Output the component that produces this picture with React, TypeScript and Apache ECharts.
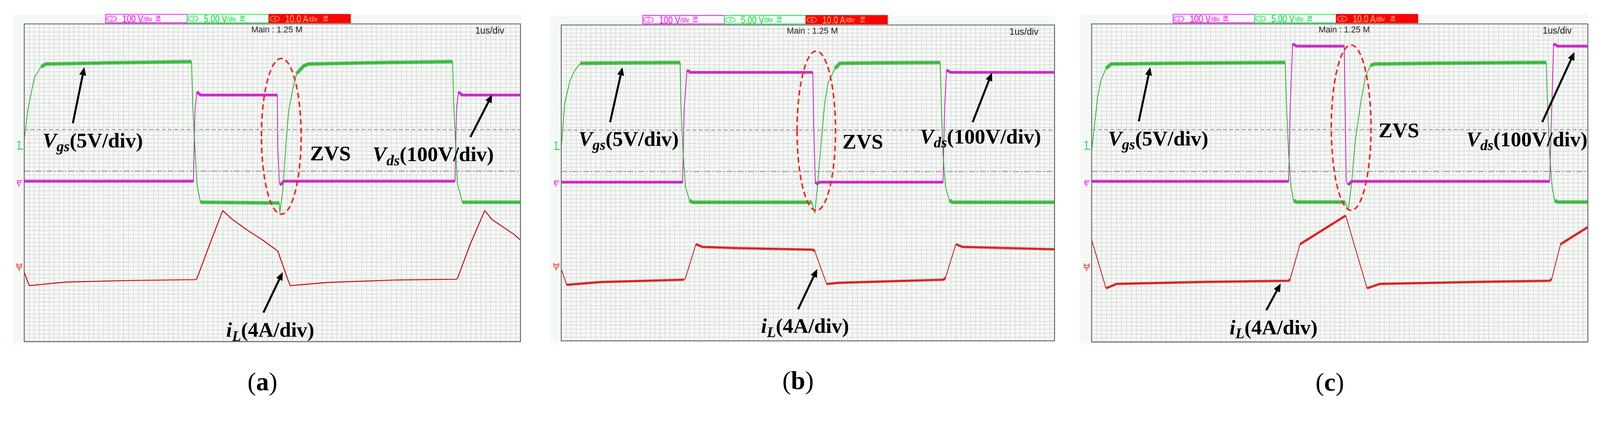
import React, { useEffect, useRef } from "react";
import * as echarts from "echarts";

type Pt = [number, number];

// Horizontal: time in µs (1 µs/div, 10 div). Vertical: screen divisions (8 div).
// ---------- panel (a) ----------
const vgsA: Pt[] = [
  [0, 5.08], [0.07, 5.82], [0.17, 6.44], [0.21, 6.66], [0.27, 6.78], [0.34, 6.92], [0.44, 6.99], [1.73, 7.02], [3.37, 7.05],
  [3.4, 5.82], [3.48, 3.97], [3.55, 3.51], [5.14, 3.49], [5.15, 3.25], [5.21, 3.79], [5.28, 5.08], [5.33, 5.82], [5.43, 6.47],
  [5.49, 6.75], [5.63, 6.94], [5.72, 6.99], [6.91, 7.02], [8.63, 7.05], [8.66, 5.82], [8.73, 3.97], [8.83, 3.51], [10, 3.51],
];
const vdsA: Pt[] = [
  [0, 4.04], [3.41, 4.04], [3.44, 5.82], [3.48, 6.29], [3.55, 6.21], [5.1, 6.21], [5.11, 4.9], [5.14, 4.0], [5.16, 3.94],
  [5.23, 4.04], [8.68, 4.04], [8.71, 5.82], [8.75, 6.29], [8.82, 6.21], [10, 6.21],
];
const iLA: Pt[] = [
  [0, 1.75], [0.1, 1.41], [0.84, 1.5], [2.15, 1.54], [3.45, 1.56], [3.48, 1.59], [3.74, 2.46], [4.0, 3.3], [4.2, 3.07],
  [4.54, 2.77], [4.8, 2.56], [5.11, 2.28], [5.2, 1.96], [5.33, 1.5], [5.36, 1.41], [6.12, 1.49], [7.44, 1.55], [8.7, 1.57],
  [8.73, 1.59], [8.99, 2.46], [9.28, 3.3], [9.43, 3.07], [9.87, 2.7], [10, 2.56],
];
// ---------- panel (b) ----------
const vgsB: Pt[] = [
  [0, 4.87], [0.07, 6.02], [0.18, 6.6], [0.28, 6.86], [0.39, 7.03], [1.28, 7.04], [2.41, 7.05], [2.43, 5.84], [2.47, 4.72],
  [2.52, 3.89], [2.6, 3.56], [2.66, 3.51], [5.08, 3.51], [5.14, 3.23], [5.2, 3.99], [5.27, 5.04], [5.34, 6.02], [5.41, 6.54],
  [5.55, 6.9], [5.65, 7.03], [6.49, 7.04], [7.68, 7.05], [7.71, 5.84], [7.74, 4.72], [7.79, 3.89], [7.87, 3.56], [7.93, 3.51], [10, 3.51],
];
const vdsB: Pt[] = [
  [0, 4.02], [2.46, 4.02], [2.49, 5.84], [2.55, 6.86], [2.62, 6.8], [5.1, 6.8], [5.12, 5.37], [5.15, 4.02], [5.19, 3.98],
  [5.24, 4.02], [7.74, 4.02], [7.77, 5.84], [7.81, 6.86], [7.89, 6.8], [10, 6.8],
];
const iLB: Pt[] = [
  [0, 1.82], [0.11, 1.42], [0.8, 1.49], [2.49, 1.55], [2.52, 1.6], [2.73, 2.45], [2.86, 2.38], [3.55, 2.35], [5.1, 2.31],
  [5.14, 2.27], [5.38, 1.44], [5.62, 1.47], [7.75, 1.55], [7.79, 1.6], [8.0, 2.45], [8.13, 2.38], [10, 2.32],
];
// ---------- panel (c) ----------
const vgsC: Pt[] = [
  [0, 4.8], [0.12, 6.16], [0.19, 6.59], [0.29, 6.88], [0.39, 6.99], [1.69, 7.01], [3.9, 7.03], [3.93, 5.83], [3.97, 4.72],
  [4.02, 3.89], [4.07, 3.56], [4.13, 3.52], [5.11, 3.52], [5.17, 3.31], [5.24, 4.0], [5.31, 5.03], [5.42, 6.0], [5.52, 6.69],
  [5.62, 6.95], [5.69, 6.99], [6.87, 7.01], [9.16, 7.03], [9.19, 5.83], [9.23, 4.72], [9.28, 3.89], [9.33, 3.56], [9.39, 3.52], [10, 3.52],
];
const vdsC: Pt[] = [
  [0, 4.04], [3.97, 4.04], [4.0, 5.83], [4.05, 7.5], [4.13, 7.44], [5.09, 7.44], [5.11, 5.83], [5.13, 4.04], [5.17, 3.95],
  [5.24, 4.04], [9.23, 4.04], [9.27, 5.83], [9.31, 7.5], [9.39, 7.44], [10, 7.44],
];
const iLC: Pt[] = [
  [0, 2.57], [0.29, 1.35], [0.5, 1.46], [2.22, 1.51], [3.97, 1.54], [4.0, 1.58], [4.2, 2.46], [5.12, 3.18], [5.55, 1.35],
  [5.8, 1.46], [7.72, 1.51], [9.23, 1.54], [9.27, 1.58], [9.45, 2.46], [10, 2.89],
];

// reference level lines (div) and channel markers (div)
const levelLines = [5.34, 4.29];
const vgsMarker = 4.94;
const vdsMarker = 4.05;
const iLMarker = 1.9;

// texts
const scopeLegend = [
  { num: "2", value: "100 V", unit: "/div" },
  { num: "3", value: "5.00 V", unit: "/div" },
  { num: "4", value: "10.0 A", unit: "/div" },
];
const mainText = "Main : 1.25 M";
const timebaseText = "1us/div";
const panelTags = ["a", "b", "c"];

// annotations in data coordinates (µs, div)
const annotations = [
  {
    arrows: [[[0.98, 5.5], [1.21, 6.91]], [[8.99, 5.15], [9.43, 6.22]], [[4.82, 0.73], [5.21, 1.75]]],
    ellipse: { c: [5.18, 5.17], rx: 0.4, ry: 1.96 },
    vgs: [0.37, 5.07], zvs: [5.76, 4.74], vds: [7.02, 4.72], il: [4.07, 0.3],
  },
  {
    arrows: [[[0.99, 5.54], [1.24, 6.93]], [[8.34, 5.54], [8.73, 6.79]], [[4.8, 0.8], [5.19, 1.82]]],
    ellipse: { c: [5.17, 5.32], rx: 0.39, ry: 2.02 },
    vgs: [0.35, 5.12], zvs: [5.7, 5.05], vds: [7.27, 5.18], il: [4.05, 0.38],
  },
  {
    arrows: [[[0.95, 5.55], [1.18, 6.91]], [[9.08, 5.53], [9.73, 7.29]], [[3.52, 0.8], [3.81, 1.47]]],
    ellipse: { c: [5.23, 5.39], rx: 0.4, ry: 2.08 },
    vgs: [0.33, 5.12], zvs: [5.78, 5.33], vds: [7.55, 5.1], il: [2.78, 0.37],
  },
];

// layout
const W = 4356;
const H = 1097;
const panels = [
  { left: 66, top: 65, width: 1351, height: 864 },
  { left: 1528, top: 68, width: 1343, height: 859 },
  { left: 2972, top: 65, width: 1351, height: 865 },
];
const traces = [
  [vdsA, vgsA, iLA],
  [vdsB, vgsB, iLB],
  [vdsC, vgsC, iLC],
];
const chStyle = [
  { core: "#c810c8", band: "rgba(196,0,186,0.72)" },
  { core: "#1cb21c", band: "rgba(10,165,20,0.66)" },
  { core: "#cc0000", band: "rgba(210,0,0,0.65)" },
];
const bandW = [
  [8, 10, 0],
  [8, 10, 7],
  [8, 10, 7],
];
const coreW = [
  [2, 2, 2.5],
  [2, 2, 2],
  [2, 2, 2],
];
const legendColors = [
  { stroke: "#ff00ff", fill: "#f7faf8", text: "#ff00ff" },
  { stroke: "#00e84a", fill: "#f7faf8", text: "#00dd33" },
  { stroke: "#ff0000", fill: "#ff0000", text: "#ffc38a" },
];
const iconOffsets = [136, 143, 148];

function flatParts(pts: Pt[], thr: number): any[] {
  const out: any[] = [];
  let open = false;
  for (let i = 0; i < pts.length - 1; i++) {
    const [x0, y0] = pts[i];
    const [x1, y1] = pts[i + 1];
    const flat = Math.abs((y1 - y0) / (x1 - x0)) < thr;
    if (flat) {
      if (!open) {
        out.push([x0, y0]);
        open = true;
      }
      out.push([x1, y1]);
    } else if (open) {
      out.push([x0, "-"]);
      open = false;
    }
  }
  return out;
}

function buildOption() {
  const grid = panels.map((p) => ({
    left: p.left, top: p.top, width: p.width, height: p.height,
    show: true, backgroundColor: "#f6faf7", borderColor: "#6e6e6e", borderWidth: 2,
  }));
  const axisCommon = {
    type: "value",
    axisLine: { show: false },
    axisTick: { show: false },
    axisLabel: { show: false },
    splitLine: { show: true, lineStyle: { color: "#9a9a9a", width: 1.5, type: [2, 3] } },
    minorTick: { show: false, splitNumber: 10 },
    minorSplitLine: { show: true, lineStyle: { color: "#dcdcdc", width: 2 } },
  };
  const xAxis = panels.map((_, i) => ({ ...axisCommon, gridIndex: i, min: 0, max: 10, interval: 1 }));
  const yAxis = panels.map((_, i) => ({ ...axisCommon, gridIndex: i, min: 0, max: 8, interval: 1 }));
  const series: any[] = [];
  panels.forEach((_, i) => {
    traces[i].forEach((pts, c) => {
      const z = 3 + c;
      const bw = bandW[i][c];
      const first = c === 0;
      if (bw > 0) {
        series.push({
          type: "line", xAxisIndex: i, yAxisIndex: i, data: flatParts(pts, 1.5), symbol: "none",
          silent: true, connectNulls: false, z,
          lineStyle: { color: chStyle[c].band, width: bw, join: "round" },
          markLine: first
            ? {
                silent: true, symbol: "none", label: { show: false },
                data: [
                  { yAxis: levelLines[0], lineStyle: { color: "#a5a5a5", width: 3, type: [11, 6] } },
                  { yAxis: levelLines[1], lineStyle: { color: "#a5a5a5", width: 3, type: [16, 5, 4, 5] } },
                ],
              }
            : undefined,
        });
      }
      series.push({
        type: "line", xAxisIndex: i, yAxisIndex: i, data: pts, symbol: "none", silent: true, z,
        lineStyle: { color: chStyle[c].core, width: coreW[i][c] },
      });
    });
  });
  return { animation: false, grid, xAxis, yAxis, series };
}

const serif = "Liberation Serif, Times New Roman, serif";
const sans = "Liberation Sans, Arial, sans-serif";
const LBL = 57;
const SUB = 40;

function labelText(main: string, sub: string, rest: string) {
  const it = { fontFamily: serif, fontStyle: "italic", fontWeight: "bold", fill: "#000", verticalAlign: "top" };
  const up = { fontFamily: serif, fontWeight: "bold", fill: "#000", verticalAlign: "top" };
  return {
    text: (main ? `{v|${main}}` : "") + (sub ? `{s|${sub}}` : "") + `{n|${rest}}`,
    rich: {
      v: { ...it, fontSize: LBL },
      s: { ...it, fontSize: SUB, padding: [25, 0, 0, 0] },
      n: { ...up, fontSize: LBL },
    },
  };
}

function buildGraphics(chart: any) {
  const els: any[] = [];
  panels.forEach((p, i) => {
    const toPx = (pt: number[]) => chart.convertToPixel({ gridIndex: i }, pt) as number[];
    const sx = p.width / 10;
    const sy = p.height / 8;
    const right = p.left + p.width;
    const bottom = p.top + p.height;
    const bg = "#f5f9f6";
    // outer light frame
    els.push({ type: "rect", silent: true, z: 1, shape: { x: p.left - 31, y: p.top - 26, width: p.width + 33, height: 26 }, style: { fill: bg } });
    els.push({ type: "rect", silent: true, z: 1, shape: { x: p.left - 31, y: p.top, width: 31, height: p.height + 4 }, style: { fill: bg } });
    els.push({ type: "rect", silent: true, z: 1, shape: { x: right, y: p.top, width: 2, height: p.height + 4 }, style: { fill: bg } });
    els.push({ type: "rect", silent: true, z: 1, shape: { x: p.left, y: bottom, width: p.width, height: 4 }, style: { fill: bg } });
    // border
    els.push({ type: "rect", silent: true, z: 60, shape: { x: p.left, y: p.top, width: p.width, height: p.height }, style: { fill: "none", stroke: "#6a6a6a", lineWidth: 2.5 } });

    // scope legend boxes
    scopeLegend.forEach((lg, k) => {
      const col = legendColors[k];
      const bx = p.left + 222 + k * 222;
      const by = p.top - 26;
      els.push({ type: "rect", silent: true, z: 5, shape: { x: bx, y: by, width: 222, height: 23 }, style: { fill: col.fill, stroke: col.stroke, lineWidth: 2 } });
      els.push({ type: "ellipse", silent: true, z: 6, shape: { cx: bx + 16, cy: by + 12, rx: 13, ry: 7.5 }, style: { fill: "none", stroke: col.text, lineWidth: 1.5 } });
      els.push({ type: "text", silent: true, z: 6, x: bx + 16, y: by + 12.5, style: { text: lg.num, fontSize: 13, fontFamily: sans, fill: col.text, align: "center", verticalAlign: "middle" } });
      els.push({
        type: "text", silent: true, z: 6, x: bx + 45, y: by + 12.5, scaleX: 0.78,
        style: {
          text: `{a|${lg.value}}{b|${lg.unit}}`, align: "left", verticalAlign: "middle",
          rich: { a: { fontSize: 28, fontFamily: sans, fill: col.text }, b: { fontSize: 20, fontFamily: sans, fill: col.text } },
        },
      });
      const ix = bx + iconOffsets[k];
      els.push({ type: "text", silent: true, z: 6, x: ix, y: by + 8, scaleX: 0.8, style: { text: "1M", fontSize: 11, fontWeight: "bold", fontFamily: sans, fill: col.text, align: "left", verticalAlign: "middle" } });
      els.push({ type: "rect", silent: true, z: 6, shape: { x: ix, y: by + 14, width: 13, height: 5 }, style: { fill: col.text, opacity: 0.55 } });
    });

    // scope header texts
    const mp = toPx([5.09, 7.86]);
    els.push({ type: "text", silent: true, z: 60, x: mp[0], y: mp[1], style: { text: mainText, fontSize: 23, fontFamily: sans, fill: "#2a2a2a", align: "center", verticalAlign: "middle" } });
    const tp = toPx([9.38, 7.83]);
    els.push({ type: "text", silent: true, z: 60, x: tp[0], y: tp[1], style: { text: timebaseText, fontSize: 25, fontFamily: sans, fill: "#1a1a1a", align: "center", verticalAlign: "middle" } });

    // channel markers on the left
    const ln = (x1: number, y1: number, x2: number, y2: number, stroke: string) =>
      els.push({ type: "line", silent: true, z: 6, shape: { x1, y1, x2, y2 }, style: { stroke, lineWidth: 2 } });
    const gL = p.left;
    const g = toPx([0, vgsMarker]);
    ln(gL - 19, g[1] - 10, gL - 10, g[1] - 10, "#00d030");
    ln(gL - 14, g[1] - 10, gL - 14, g[1] + 10, "#00d030");
    ln(gL - 19, g[1] + 10, gL - 3, g[1] + 10, "#00d030");
    const m = toPx([0, vdsMarker]);
    ln(gL - 20, m[1], gL - 5, m[1], "#ff00ff");
    ln(gL - 18, m[1], gL - 18, m[1] + 10, "#ff00ff");
    ln(gL - 18, m[1] + 5, gL - 8, m[1] + 5, "#ff00ff");
    ln(gL - 17, m[1] + 10, gL - 11, m[1] + 10, "#ff00ff");
    ln(gL - 16, m[1] + 15, gL - 13, m[1] + 15, "#ff00ff");
    const r = toPx([0, iLMarker]);
    ln(gL - 20, r[1] - 8, gL - 20, r[1] + 2, "#ff2020");
    ln(gL - 7, r[1] - 8, gL - 7, r[1] + 2, "#ff2020");
    ln(gL - 20, r[1] - 3, gL - 7, r[1] - 3, "#ff2020");
    ln(gL - 20, r[1] + 3, gL - 7, r[1] + 3, "#ff2020");
    ln(gL - 18, r[1] + 7, gL - 10, r[1] + 7, "#ff2020");
    ln(gL - 16, r[1] + 11, gL - 12, r[1] + 11, "#ff2020");

    // annotations
    const an = annotations[i];
    const ec = toPx(an.ellipse.c);
    els.push({
      type: "ellipse", silent: true, z: 80,
      shape: { cx: ec[0], cy: ec[1], rx: an.ellipse.rx * sx, ry: an.ellipse.ry * sy },
      style: { fill: "none", stroke: "#ff1a1a", lineWidth: 4, lineDash: [15, 9] },
    });
    an.arrows.forEach((a) => {
      const t = toPx(a[0]);
      const h = toPx(a[1]);
      const dx = h[0] - t[0];
      const dy = h[1] - t[1];
      const len = Math.hypot(dx, dy);
      const ux = dx / len;
      const uy = dy / len;
      const bxp = h[0] - ux * 22;
      const byp = h[1] - uy * 22;
      els.push({ type: "line", silent: true, z: 85, shape: { x1: t[0], y1: t[1], x2: h[0] - ux * 16, y2: h[1] - uy * 16 }, style: { stroke: "#000", lineWidth: 5.5 } });
      els.push({
        type: "polygon", silent: true, z: 85,
        shape: { points: [[h[0], h[1]], [bxp - uy * 9.5, byp + ux * 9.5], [bxp + uy * 9.5, byp - ux * 9.5]] },
        style: { fill: "#000" },
      });
    });
    const place = (pt: number[], content: any) => {
      const q = toPx(pt);
      els.push({ type: "text", silent: true, z: 90, x: q[0], y: q[1] - LBL / 2, style: { ...content, align: "left", verticalAlign: "top" } });
    };
    place(an.vgs, labelText("V", "gs", "(5V/div)"));
    place(an.zvs, labelText("", "", "ZVS"));
    place(an.vds, labelText("V", "ds", "(100V/div)"));
    place(an.il, labelText("i", "L", "(4A/div)"));

    // panel tag
    const lp = toPx([4.8, -1.0]);
    els.push({
      type: "text", silent: true, z: 90, x: lp[0], y: lp[1],
      style: {
        text: `{p|(}{b|${panelTags[i]}}{p|)}`, align: "center", verticalAlign: "middle",
        rich: {
          p: { fontFamily: serif, fontSize: 70, fill: "#000" },
          b: { fontFamily: serif, fontSize: 70, fontWeight: "bold", fill: "#000" },
        },
      },
    });
  });
  return els;
}

export default function App() {
  const ref = useRef<HTMLDivElement>(null);
  useEffect(() => {
    document.body.style.margin = "0";
    const el = ref.current as HTMLDivElement;
    const fit = () => {
      const vw = window.innerWidth || W;
      const s = vw / W;
      el.style.transform = `scale(${s})`;
    };
    fit();
    window.addEventListener("resize", fit);
    const chart = echarts.init(el, null, { renderer: "svg", width: W, height: H });
    chart.setOption(buildOption() as any);
    chart.setOption({ graphic: { elements: buildGraphics(chart) } } as any);
    return () => {
      window.removeEventListener("resize", fit);
      chart.dispose();
    };
  }, []);
  return (
    <div style={{ position: "fixed", left: 0, top: 0, width: "100vw", height: "100vh", overflow: "hidden", background: "#ffffff" }}>
      <div
        ref={ref}
        style={{ position: "absolute", left: 0, top: 0, width: W, height: H, transformOrigin: "0 0", background: "#ffffff" }}
      />
    </div>
  );
}
